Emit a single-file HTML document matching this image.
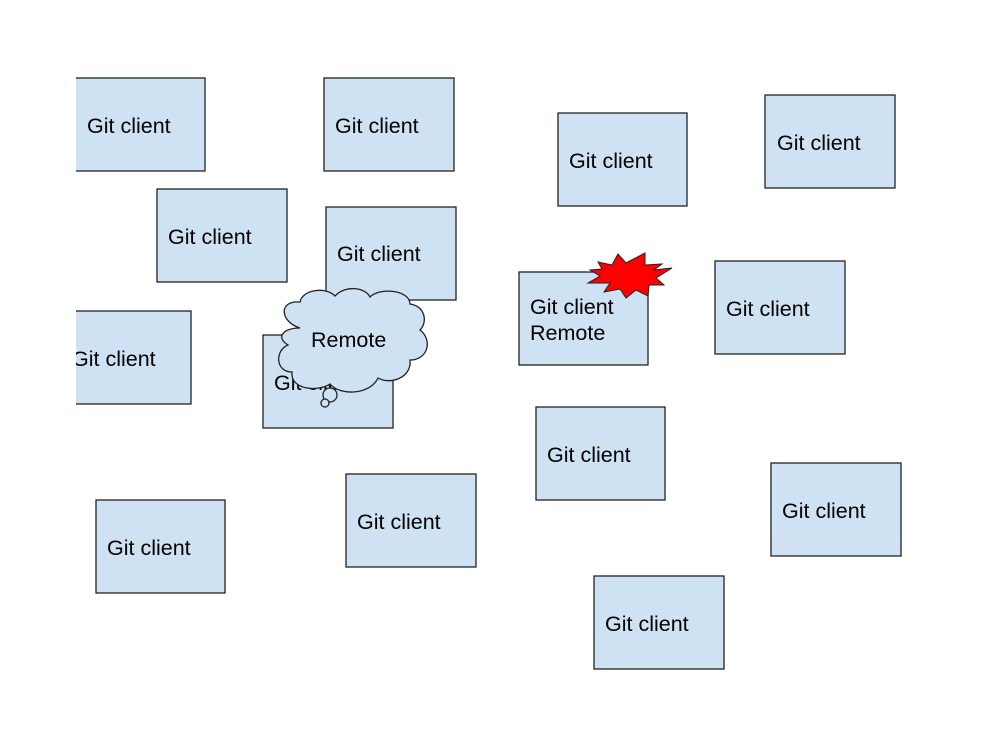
<!DOCTYPE html>
<html><head><style>body{margin:0;background:#fff}svg{display:block}</style></head><body>
<svg width="985" height="732" viewBox="0 0 985 732" xmlns="http://www.w3.org/2000/svg" font-family="Liberation Sans, sans-serif" font-size="21.5">
<defs><clipPath id="c"><rect x="76" y="0" width="909" height="732"/></clipPath></defs>
<g clip-path="url(#c)" fill="#cfe2f3" stroke="#222" stroke-width="1.3">
<rect x="70" y="78" width="135" height="93"/>
<rect x="324" y="78" width="130" height="93"/>
<rect x="558" y="113" width="129" height="93"/>
<rect x="765" y="95" width="130" height="93"/>
<rect x="157" y="189" width="130" height="93"/>
<rect x="326" y="207" width="130" height="93"/>
<rect x="60" y="311" width="131" height="93"/>
<rect x="263" y="335" width="130" height="93"/>
<rect x="519" y="272" width="129" height="93"/>
<rect x="715" y="261" width="130" height="93"/>
<rect x="536" y="407" width="129" height="93"/>
<rect x="346" y="474" width="130" height="93"/>
<rect x="771" y="463" width="130" height="93"/>
<rect x="96" y="500" width="129" height="93"/>
<rect x="594" y="576" width="130" height="93"/>
</g>
<g clip-path="url(#c)" fill="#000">
<text x="87" y="133">Git client</text>
<text x="335" y="133">Git client</text>
<text x="569" y="168">Git client</text>
<text x="777" y="150">Git client</text>
<text x="168" y="244">Git client</text>
<text x="337" y="261">Git client</text>
<text x="72" y="366">Git client</text>
<text x="274" y="390">Git client</text>
<text x="530" y="314">Git client</text>
<text x="530" y="340">Remote</text>
<text x="726" y="316">Git client</text>
<text x="547" y="462">Git client</text>
<text x="357" y="529">Git client</text>
<text x="782" y="518">Git client</text>
<text x="107" y="555">Git client</text>
<text x="605" y="631">Git client</text>
</g>
<g fill="#cfe2f3" stroke="#222" stroke-width="1.3">
<path d="M300 328 C280 322 278 300 300 302 C302 290 325 286 335 296 C345 285 365 287 370 297 C380 287 410 290 410 304 C425 306 428 322 420 330 C433 340 428 360 410 360 C412 378 390 385 378 378 C370 395 340 396 330 384 C318 392 290 390 292 372 C275 372 275 350 288 345 C276 338 282 328 300 328 Z"/>
<circle cx="330" cy="395" r="7"/>
<circle cx="325" cy="403" r="4"/>
</g>
<text x="311" y="347" fill="#000">Remote</text>
<polygon fill="#f00" stroke="#222" stroke-width="1" points="598,262 612,265 618,254 626,263 645,253 645,265 662,264 654,270 672,268 656,278 664,285 649,285 648,296 636,290 626,298 620,289 604,292 610,283 588,283 600,276 590,270 602,269"/>
</svg>
</body></html>
